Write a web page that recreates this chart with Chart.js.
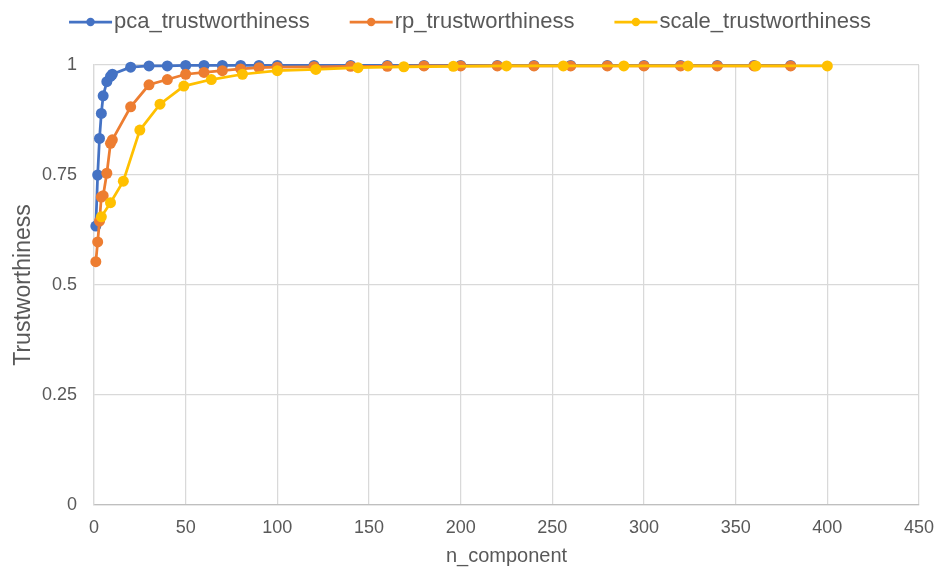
<!DOCTYPE html>
<html>
<head>
<meta charset="utf-8">
<script src="https://cdn.jsdelivr.net/npm/chart.js@4/dist/chart.umd.min.js"></script>
<style>
  html, body { margin: 0; padding: 0; background: #ffffff; }
  #wrap { width: 946px; height: 572px; position: relative; }
</style>
</head>
<body>
<div id="wrap"><canvas id="chart" width="946" height="572"></canvas></div>
<script>
// n_component values for the PCA and random-projection runs
const pcaRpComponents = [1, 2, 3, 4, 5, 7, 9, 10, 20, 30, 40, 50, 60, 70, 80, 90, 100,
  120, 140, 160, 180, 200, 220, 240, 260, 280, 300, 320, 340, 360, 380];

const pcaTrust = [0.634, 0.750, 0.833, 0.890, 0.930, 0.962, 0.974, 0.979, 0.995, 0.998,
  0.998, 0.999, 0.999, 0.999, 0.999, 0.999, 0.999,
  0.999, 0.999, 0.999, 0.999, 0.999, 0.999, 0.999, 0.999, 0.999, 0.999, 0.999, 0.999, 0.999, 0.999];

const rpTrust = [0.553, 0.598, 0.645, 0.700, 0.703, 0.754, 0.822, 0.830, 0.905, 0.955,
  0.967, 0.979, 0.983, 0.987, 0.991, 0.994, 0.995,
  0.996, 0.997, 0.997, 0.998, 0.998, 0.998, 0.998, 0.998, 0.998, 0.998, 0.998, 0.998, 0.998, 0.998];

// n_component values for the scaling run
const scaleComponents = [4, 9, 16, 25, 36, 49, 64, 81, 100, 121, 144, 169, 196,
  225, 256, 289, 324, 361, 400];

const scaleTrust = [0.655, 0.687, 0.736, 0.852, 0.911, 0.952, 0.967, 0.979, 0.987,
  0.990, 0.994, 0.996, 0.997, 0.998, 0.998, 0.998, 0.998, 0.998, 0.998];

const seriesNames = ['pca_trustworthiness', 'rp_trustworthiness', 'scale_trustworthiness'];
const seriesColors = ['#4472C4', '#ED7D31', '#FFC000'];

const xTickStep = 50, xMax = 450;
const yTickStep = 0.25, yMax = 1;

const FONT = '"Liberation Sans", Arial, Helvetica, sans-serif';
const TEXT = '#595959';

function points(xs, ys) {
  return xs.map((x, i) => ({ x: x, y: ys[i] }));
}

function series(idx, xs, ys, order) {
  return {
    label: seriesNames[idx],
    data: points(xs, ys),
    showLine: true,
    borderColor: seriesColors[idx],
    backgroundColor: seriesColors[idx],
    borderWidth: 2.75,
    pointRadius: 5.5,
    pointHoverRadius: 5.5,
    pointBorderWidth: 0,
    pointBackgroundColor: seriesColors[idx],
    tension: 0,
    clip: false,
    order: order
  };
}

// Legend row: short line with a dot, followed by the series name
const lineLegend = {
  id: 'lineLegend',
  afterDraw(chart) {
    const ctx = chart.ctx;
    const markW = 43, markGap = 2, itemGap = 40, y = 22;
    ctx.save();
    ctx.font = '22px ' + FONT;
    const items = chart.data.datasets.map(ds => ({
      text: ds.label, color: ds.borderColor, w: ctx.measureText(ds.label).width
    }));
    const total = items.reduce((s, it) => s + markW + markGap + it.w, 0) + itemGap * (items.length - 1);
    let x = chart.width / 2 - 3 - total / 2;
    items.forEach(it => {
      ctx.strokeStyle = it.color;
      ctx.lineWidth = 2.75;
      ctx.beginPath();
      ctx.moveTo(x, y);
      ctx.lineTo(x + markW, y);
      ctx.stroke();
      ctx.fillStyle = it.color;
      ctx.beginPath();
      ctx.arc(x + markW / 2, y, 4.2, 0, Math.PI * 2);
      ctx.fill();
      ctx.fillStyle = TEXT;
      ctx.textBaseline = 'middle';
      ctx.textAlign = 'left';
      ctx.fillText(it.text, x + markW + markGap, y);
      x += markW + markGap + it.w + itemGap;
    });
    ctx.restore();
  }
};

new Chart(document.getElementById('chart'), {
  type: 'scatter',
  data: {
    datasets: [
      series(0, pcaRpComponents, pcaTrust, 3),
      series(1, pcaRpComponents, rpTrust, 2),
      series(2, scaleComponents, scaleTrust, 1)
    ]
  },
  options: {
    responsive: false,
    animation: false,
    devicePixelRatio: 1,
    layout: { padding: { top: 65, right: 20, bottom: 0, left: 6 } },
    plugins: {
      legend: { display: false },
      tooltip: { enabled: false },
      title: { display: false }
    },
    scales: {
      x: {
        type: 'linear',
        min: 0,
        max: xMax,
        afterFit(scale) { scale.height = 67; },
        ticks: {
          stepSize: xTickStep,
          color: TEXT,
          font: { family: FONT, size: 18 },
          padding: 12,
          maxRotation: 0
        },
        grid: { color: '#d9d9d9', lineWidth: 1.25, drawTicks: false },
        border: { color: '#bfbfbf', width: 1.25 },
        title: {
          display: true,
          text: 'n_component',
          color: TEXT,
          font: { family: FONT, size: 20 },
          padding: { top: 4, bottom: 4 }
        }
      },
      y: {
        type: 'linear',
        min: 0,
        max: yMax,
        afterFit(scale) { scale.width = 88; },
        ticks: {
          stepSize: yTickStep,
          color: TEXT,
          font: { family: FONT, size: 18 },
          padding: 17,
          callback: v => String(Number(v.toFixed(2)))
        },
        grid: { color: '#d9d9d9', lineWidth: 1.25, drawTicks: false },
        border: { color: '#d9d9d9', width: 1.25 },
        title: {
          display: true,
          text: 'Trustworthiness',
          color: TEXT,
          font: { family: FONT, size: 23 },
          padding: { top: 4, bottom: 4 }
        }
      }
    }
  },
  plugins: [lineLegend]
});
</script>
</body>
</html>
